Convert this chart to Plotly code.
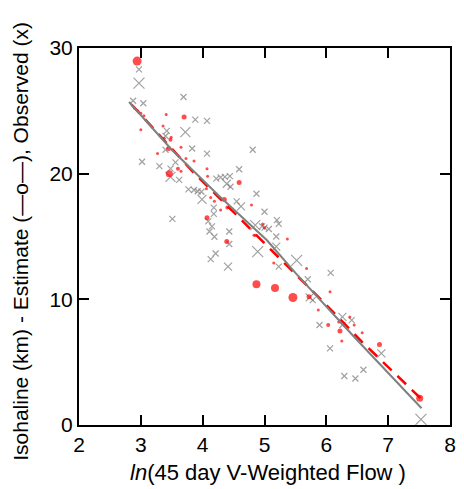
import plotly.graph_objects as go

# Observed isohaline positions (gray x)
obs_x = [2.97, 2.97, 2.875, 3.04, 3.69, 3.88, 4.07, 3.42, 3.72, 3.40, 3.83, 3.40, 4.07, 4.81,
         3.02, 3.30, 3.48, 3.56, 3.48, 3.62, 3.51, 3.77, 3.86, 3.99, 3.98, 4.09, 4.11, 4.15,
         4.59, 4.29, 4.36, 4.44, 4.39, 4.45, 4.87, 5.00, 5.20, 5.23, 4.85, 5.00, 5.07, 5.19,
         4.43, 4.19, 4.43, 4.21, 4.13, 4.41, 4.89, 5.23, 5.52, 5.19, 6.07, 5.70, 5.73, 5.78,
         5.89, 6.26, 6.41, 6.06, 6.89, 6.29, 6.47, 6.60, 7.53, 4.62, 4.55, 4.18, 4.18, 6.26,
         3.92, 4.22, 4.96]
obs_y = [28.3, 27.2, 25.8, 25.6, 26.1, 24.3, 24.2, 23.4, 23.3, 23.0, 22.0, 21.9, 21.6, 21.9,
         20.95, 20.6, 20.4, 20.9, 19.75, 19.5, 16.4, 18.75, 18.7, 17.95, 18.56, 16.2, 15.4, 15.8,
         20.35, 19.7, 19.75, 19.8, 19.2, 18.96, 18.4, 16.97, 16.3, 16.0, 15.9, 15.7, 15.6, 15.0,
         15.4, 14.98, 14.4, 13.65, 13.2, 12.6, 13.8, 12.6, 13.1, 14.2, 12.1, 11.6, 10.15, 9.94,
         7.96, 8.6, 8.35, 6.1, 5.7, 3.9, 3.7, 4.4, 0.45, 17.4, 17.8, 17.3, 16.8, 7.96,
         18.6, 19.6, 15.8]
obs_size = [6, 11, 6, 6, 6, 6, 6, 6, 10, 6, 6, 6, 6, 6,
            6, 6, 6, 6, 10, 6, 6, 6, 6, 9, 6, 6, 6, 6,
            6, 6, 6, 6, 8, 6, 6, 6, 6, 6, 10, 6, 6, 6,
            6, 6, 6, 6, 6, 8, 11, 6, 11, 8, 6, 6, 8, 6,
            6, 8, 6, 6, 8, 6, 6, 6, 11, 8, 6, 6, 6, 6,
            6, 6, 6]

# Estimated isohaline positions (red dots)
est_x = [2.94, 3.70, 3.41, 3.36, 3.00, 3.45, 3.48, 3.49, 3.65, 3.73, 3.86, 3.46, 3.60, 3.65,
         4.07, 4.08, 4.59, 4.06, 4.19, 4.35, 4.40, 4.29, 4.07, 4.79, 4.39, 4.85, 5.37, 5.15,
         4.87, 5.17, 5.46, 5.68, 6.06, 5.72, 5.87, 6.03, 6.38, 6.45, 6.22, 6.25, 6.58, 6.86,
         7.51, 2.90, 2.95, 3.00, 3.05, 3.38, 3.27, 4.13, 4.97, 5.00, 4.83, 6.20]
est_y = [28.96, 24.5, 24.7, 23.8, 23.5, 22.0, 22.7, 22.9, 22.1, 21.2, 21.0, 20.0, 20.4, 20.2,
         20.4, 19.8, 19.3, 18.8, 17.8, 17.95, 17.3, 17.1, 16.5, 17.5, 14.6, 15.1, 14.8, 12.9,
         11.2, 10.9, 10.15, 12.45, 10.6, 10.2, 9.15, 7.96, 8.6, 7.96, 7.48, 6.68, 7.35, 6.4,
         2.12, 25.2, 25.0, 24.8, 24.6, 22.8, 21.6, 18.1, 16.0, 15.7, 15.1, 8.2]
est_size = [9, 5, 3, 3, 3, 5, 4, 3, 3, 3, 3, 7, 4, 3,
            3, 3, 5, 3, 3, 5, 4, 3, 5, 3, 5, 3, 3, 3,
            8, 8, 9, 3, 3, 5, 3, 4, 3, 3, 5, 3, 3, 5,
            7, 3, 3, 3, 3, 3, 3, 3, 3, 3, 3, 3]

# Estimate curve (red dashed) and fitted observed curve (gray)
est_line_x = [2.85, 3.85, 4.55, 4.85, 5.92, 6.58, 7.52]
est_line_y = [25.5, 20.1, 16.7, 15.2, 9.95, 6.6, 2.15]
fit_x = [2.81, 3.50, 4.25, 5.04, 5.50, 6.47, 7.54]
fit_y = [25.7, 21.9, 18.3, 14.7, 12.1, 6.9, 1.33]

x_ticks = [2, 3, 4, 5, 6, 7, 8]
y_ticks = [0, 10, 20, 30]

FONT = "Liberation Sans, Arial, sans-serif"

fig = go.Figure()
fig.add_trace(go.Scatter(x=obs_x, y=obs_y, mode="markers",
                         marker=dict(symbol="x-thin", size=obs_size, color="#7a7a7a",
                                     line=dict(color="#7a7a7a", width=1.2)),
                         showlegend=False))
fig.add_trace(go.Scatter(x=est_x, y=est_y, mode="markers",
                         marker=dict(symbol="circle", size=est_size, color="#ff0000",
                                     line=dict(width=0)),
                         showlegend=False))
fig.add_trace(go.Scatter(x=est_line_x, y=est_line_y, mode="lines",
                         line=dict(color="#ff0000", width=2.5, dash="12px,8px"),
                         showlegend=False))
fig.add_trace(go.Scatter(x=fit_x, y=fit_y, mode="lines",
                         line=dict(color="#808080", width=2),
                         showlegend=False))

axis_common = dict(showgrid=False, zeroline=False, showline=True, linecolor="black",
                   linewidth=2, mirror="ticks", ticks="inside", ticklen=10, tickwidth=2,
                   tickcolor="black", tickfont=dict(family=FONT, size=21, color="black"))

# The page body has an 8px margin, so the figure is sized to fit inside it.
fig.update_layout(
    width=456, height=481,
    margin=dict(l=71, r=8, t=40, b=64),
    plot_bgcolor="white", paper_bgcolor="white",
    xaxis=dict(range=[2, 8], tickvals=x_ticks, ticktext=[str(v) for v in x_ticks], **axis_common),
    yaxis=dict(range=[0, 30], tickvals=y_ticks, ticktext=[str(v) for v in y_ticks], **axis_common),
    annotations=[
        dict(text="<i>ln</i>(45 day V-Weighted Flow )", xref="paper", yref="paper",
             x=0.51, y=-0.127, xanchor="center", yanchor="middle", showarrow=False,
             font=dict(family=FONT, size=22, color="black")),
        dict(text="Isohaline (km) - Estimate (\u2014o\u2014), Observed (x)", xref="paper", yref="paper",
             x=-0.158, y=0.487, xanchor="center", yanchor="middle", textangle=-90, showarrow=False,
             font=dict(family=FONT, size=21, color="black")),
    ],
)

fig.write_html("out.html")
